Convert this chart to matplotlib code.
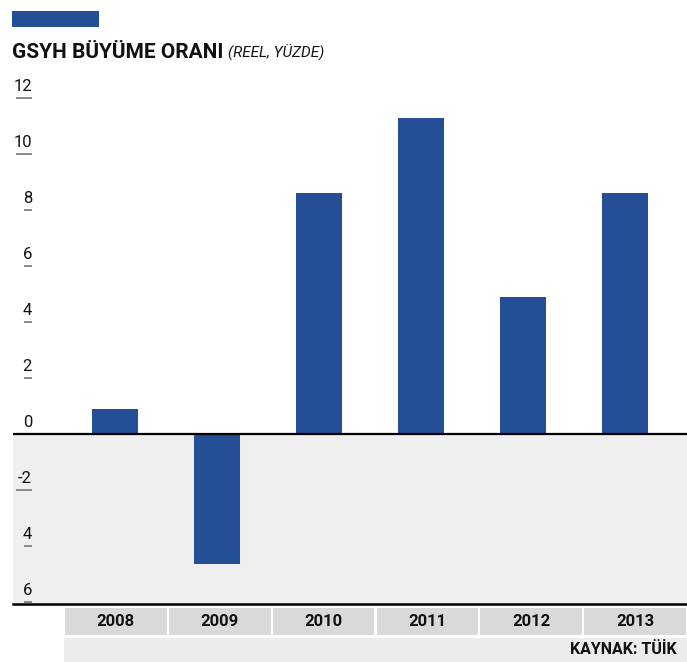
import matplotlib
matplotlib.use("Agg")
import matplotlib.pyplot as plt
from matplotlib.patches import Rectangle

# data
years = ["2008", "2009", "2010", "2011", "2012", "2013"]
growth = [0.9, -4.65, 8.6, 11.3, 4.9, 8.6]
tick_values = [12, 10, 8, 6, 4, 2, 0, -2, -4, -6]
tick_labels = ["12", "10", "8", "6", "4", "2", "0", "-2", "4", "6"]

title = "GSYH BÜYÜME ORANI"
subtitle = "(REEL, YÜZDE)"
source = "KAYNAK: TÜİK"

BLUE = "#244e96"
W, H = 687, 662

plt.rcParams["font.family"] = ["Roboto", "DejaVu Sans"]

fig = plt.figure(figsize=(W / 100, H / 100), dpi=100)


def fx(px):
    return px / W


def fy(py):
    return 1 - py / H


# small blue header block
fig.add_artist(Rectangle((fx(12), fy(27)), fx(87), 16 / H, transform=fig.transFigure,
                         color=BLUE, lw=0))
t = fig.text(fx(12), fy(58), title, fontsize=15, fontweight="bold", va="baseline",
             color="#111111")
fig.canvas.draw()
bb = t.get_window_extent()
fig.text(bb.x1 / W + fx(5), fy(58), subtitle, fontsize=11, style="italic",
         va="baseline", color="#111111")

# main bar axes
y_lo, y_hi = -6.08, 12.5
ax = fig.add_axes([fx(13), fy(604), fx(674), (604 - 84) / H])
ax.set_xlim(-1.0, 5.61)
ax.set_ylim(y_lo, y_hi)
ax.axhspan(y_lo, 0, color="#efefef", lw=0, zorder=0)
ax.bar(range(len(years)), growth, width=0.45, color=BLUE, zorder=2)
ax.axhline(0, color="black", lw=1.6, zorder=3)
ax.axhline(y_lo, color="black", lw=1.8, zorder=3, clip_on=False)
for s in ax.spines.values():
    s.set_visible(False)
ax.set_xticks([])
ax.set_yticks([])

# underlined tick labels at the left
ytr = ax.get_yaxis_transform()
x_right = (32 - 13) / 674
for v, lab in zip(tick_values, tick_labels):
    ax.text(x_right, v + 0.25, lab, transform=ytr, ha="right", va="baseline",
            fontsize=12, color="#111111")
    if v != 0:
        w = 8 * len(lab) / 674
        ax.plot([x_right - w, x_right], [v, v], transform=ytr, color="#8a8a8a",
                lw=1.4, clip_on=False, solid_capstyle="butt")

# year table and source row under the plot
tab = fig.add_axes([fx(64), 0, fx(623), (H - 607) / H])
tab.set_xlim(0, 6)
tab.set_ylim(0, H - 607)
tab.bar([i + 0.5 for i in range(len(years))], 29, bottom=H - 636, width=1,
        color="#d9d9d9", edgecolor="white", lw=1.5)
tab.bar(3, 24, width=6, color="#ececec", lw=0)
for i, yr in enumerate(years):
    tab.text(i + 0.5, H - 621.5, yr, ha="center", va="center", fontsize=12,
             fontweight="bold", color="#111111")
tab.text((677 - 64) / 623 * 6, 12, source, ha="right", va="center",
         fontsize=11.5, fontweight="bold", color="#111111")
tab.axis("off")

fig.savefig("out.png", dpi=100)
